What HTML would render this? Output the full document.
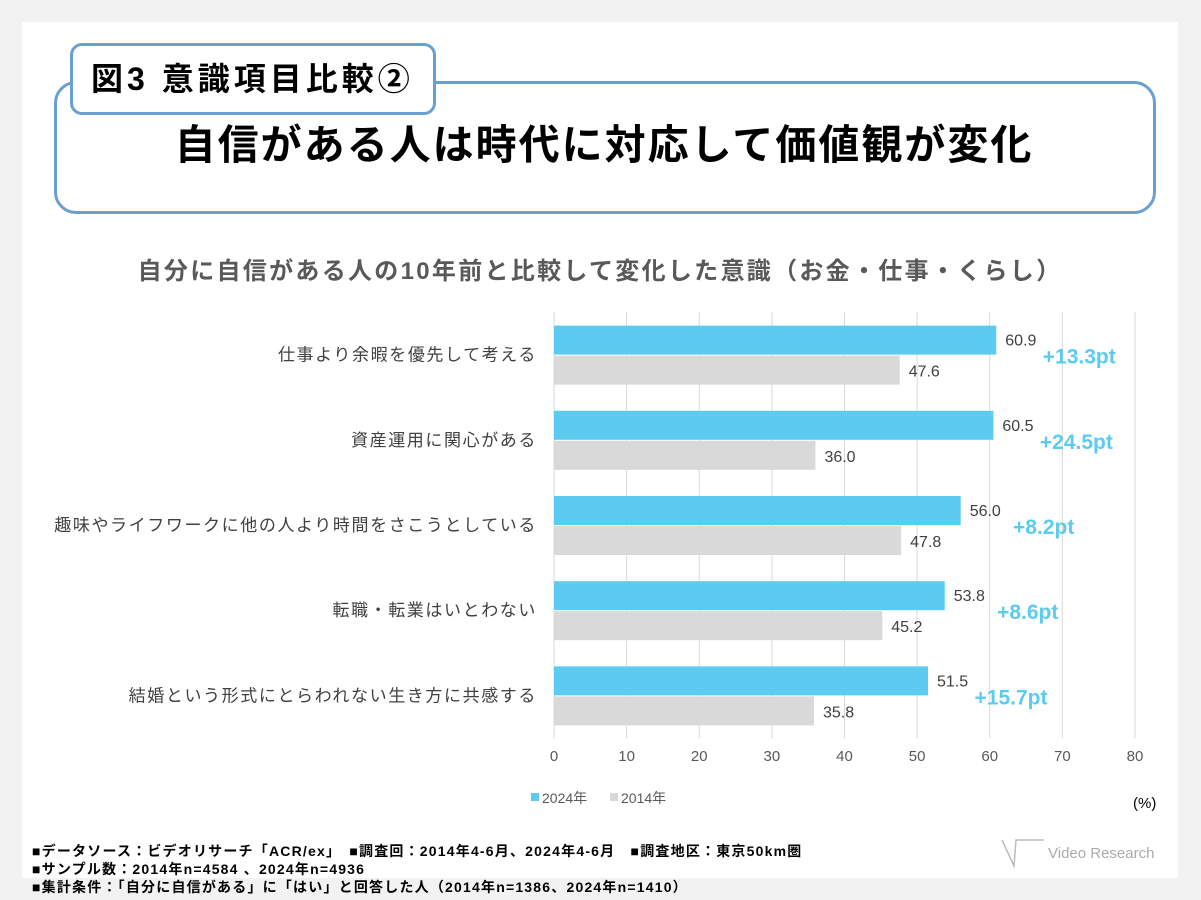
<!DOCTYPE html>
<html><head><meta charset="utf-8">
<style>
body{margin:0;width:1201px;height:900px;background:#f2f2f2;font-family:"Liberation Sans","Noto Sans CJK JP",sans-serif;position:relative;overflow:hidden}
.panel{position:absolute;left:22px;top:22px;width:1156px;height:856px;background:#fff}
.abs{position:absolute}
</style></head><body>
<div class="panel"></div>
<div class="abs" style="left:54px;top:81px;width:1096px;height:127px;border:3px solid #6a9fd0;border-radius:22px;background:#fff"></div>
<div class="abs" style="left:70px;top:43px;width:360px;height:66px;border:3px solid #6a9fd0;border-radius:12px;background:#fff;font:bold 32px 'Liberation Sans','Noto Sans CJK JP',sans-serif;line-height:66px;text-indent:18px;color:#000;letter-spacing:4px">図3 意識項目比較②</div>
<div class="abs" style="left:54px;top:111px;width:1100px;text-align:center;font:bold 41px 'Liberation Sans','Noto Sans CJK JP',sans-serif;color:#000;letter-spacing:2px">自信がある人は時代に対応して価値観が変化</div>
<div class="abs" style="left:22px;top:251px;width:1156px;text-align:center;font:bold 24px 'Liberation Sans','Noto Sans CJK JP',sans-serif;color:#595959;letter-spacing:2.3px">自分に自信がある人の10年前と比較して変化した意識（お金・仕事・くらし）</div>
<svg class="abs" style="left:0;top:0" width="1201" height="900" id="chart"></svg>
<div class="abs" style="left:1133px;top:795px;font:15px 'Liberation Sans',sans-serif;color:#000">(%)</div>
<div class="abs" style="left:32px;top:842px;font:bold 14px 'Liberation Sans','Noto Sans CJK JP',sans-serif;color:#000;line-height:18px;letter-spacing:1.2px">■データソース：ビデオリサーチ「ACR/ex」　■調査回：2014年4-6月、2024年4-6月　■調査地区：東京50km圏<br>■サンプル数：2014年n=4584 、2024年n=4936<br>■集計条件：「自分に自信がある」に「はい」と回答した人（2014年n=1386、2024年n=1410）</div>
<div class="abs" style="left:1000px;top:838px;width:160px;height:30px;font:15px 'Liberation Sans',sans-serif;color:#aaa">
<svg width="50" height="30" style="position:absolute;left:0;top:0"><path d="M2 2 L14 28 L16 2 L44 2" stroke="#bbb" fill="none" stroke-width="1.5"/></svg>
<span style="position:absolute;left:48px;top:7px">Video Research</span></div>
<script>
const categories=["仕事より余暇を優先して考える","資産運用に関心がある","趣味やライフワークに他の人より時間をさこうとしている","転職・転業はいとわない","結婚という形式にとらわれない生き方に共感する"];
const values2024=[60.9,60.5,56.0,53.8,51.5];
const values2014=[47.6,36.0,47.8,45.2,35.8];
const deltaLabels=["+13.3pt","+24.5pt","+8.2pt","+8.6pt","+15.7pt"];
const ticks=[0,10,20,30,40,50,60,70,80];
const svg=document.getElementById('chart');
const NS='http://www.w3.org/2000/svg';
const X0=554,X1=1135,XMAX=80,YT=312,YB=738;
const x=v=>X0+(X1-X0)*v/XMAX;
const band=(YB-YT)/categories.length;
const yc=i=>YT+band*(i+0.5);
function mk(t,a){const e=document.createElementNS(NS,t);for(const k in a)e.setAttribute(k,a[k]);svg.appendChild(e);return e;}
ticks.forEach(t=>{
 const l=mk('line',{x1:x(t),x2:x(t),y1:YT,y2:YB,stroke:'#d9d9d9','stroke-width':1});
 
 
 const tx=mk('text',{x:x(t),y:761,'text-anchor':'middle','font-size':15,fill:'#595959','font-family':'Liberation Sans'});
 tx.textContent=t;
 
 
});
categories.forEach((c,i)=>{
 const cy=yc(i);
 const b1=mk('rect',{x:x(0),y:cy-29,width:x(values2024[i])-x(0),height:29,fill:'#5ccbf0'});
 
 
 const b2=mk('rect',{x:x(0),y:cy+1,width:x(values2014[i])-x(0),height:29,fill:'#d9d9d9'});
 
 
 const t1=mk('text',{x:x(values2024[i])+9,y:cy-9,'font-size':16,fill:'#404040','font-family':'Liberation Sans'});
 t1.textContent=values2024[i].toFixed(1);
 
 
 const t2=mk('text',{x:x(values2014[i])+9,y:cy+22,'font-size':16,fill:'#404040','font-family':'Liberation Sans'});
 t2.textContent=values2014[i].toFixed(1);
 
 
 const d=mk('text',{x:x(values2024[i])+83,y:cy+9,'text-anchor':'middle','font-size':21,'font-weight':'bold',fill:'#5ccbf0','font-family':'Liberation Sans'});
 d.textContent=deltaLabels[i];
 
 
 const cl=mk('text',{x:537,y:cy+6,'text-anchor':'end','font-size':17,'letter-spacing':'1.6',fill:'#404040','font-family':'Liberation Sans, Noto Sans CJK JP, sans-serif'});
 cl.textContent=c;
 
 
});
const legend=[["2024年","#5ccbf0",531],["2014年","#d9d9d9",610]];
legend.forEach(([n,col,lx])=>{
 const r=mk('rect',{x:lx,y:793,width:8,height:8,fill:col});
 
 
 const t=mk('text',{x:lx+11,y:803,'font-size':14,fill:'#595959','font-family':'Liberation Sans, Noto Sans CJK JP, sans-serif'});
 t.textContent=n;
 
 
});
</script>
</body></html>
